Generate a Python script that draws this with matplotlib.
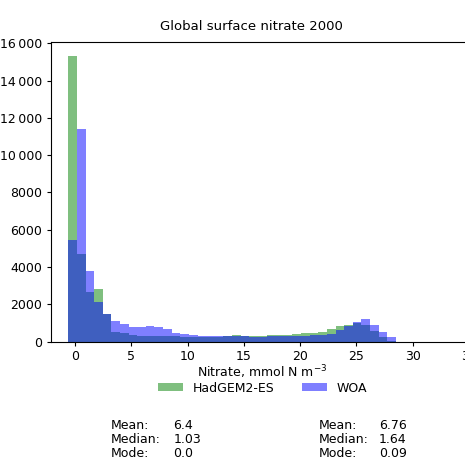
import numpy as np
import matplotlib
matplotlib.use("Agg")
import matplotlib.pyplot as plt
from matplotlib.ticker import FuncFormatter

# ---- data (counts per histogram bin) ----
bin_start = -0.62
bin_width = 0.7665
hadgem_counts = [15300, 4700, 2680, 2810, 1480, 520, 450, 360, 330, 300,
                 300, 290, 280, 270, 260, 250, 240, 240, 300, 360,
                 330, 300, 290, 350, 370, 380, 430, 450, 470, 540,
                 660, 850, 920, 1000, 900, 560, 240, 30]
woa_counts = [5450, 11400, 3790, 2140, 1460, 1110, 930, 770, 800, 840,
              780, 660, 490, 400, 360, 320, 300, 280, 320, 300,
              290, 270, 270, 290, 300, 300, 320, 330, 340, 340,
              400, 620, 850, 1030, 1220, 900, 500, 270]
series_labels = ["HadGEM2-ES", "WOA"]
stats_hadgem = [("Mean:", "6.4"), ("Median:", "1.03"), ("Mode:", "0.0")]
stats_woa = [("Mean:", "6.76"), ("Median:", "1.64"), ("Mode:", "0.09")]
x_ticks = [0, 5, 10, 15, 20, 25, 30, 35]
y_ticks = [0, 2000, 4000, 6000, 8000, 10000, 12000, 14000, 16000]

plt.rcParams['font.family'] = ['DejaVu Sans']
plt.rcParams['font.size'] = 9
plt.rcParams['xtick.major.size'] = 3.2
plt.rcParams['ytick.major.size'] = 3.2
plt.rcParams['xtick.major.pad'] = 3.0
plt.rcParams['ytick.major.pad'] = 2.8

W, H = 465, 461
fig = plt.figure(figsize=(W / 100, H / 100), dpi=100)
ax = fig.add_axes([50.5 / W, 1 - 341.7 / H, 424 / W, (341.7 - 42) / H])

n = len(hadgem_counts)
edges = bin_start + bin_width * np.arange(n + 1)
centers = (edges[:-1] + edges[1:]) / 2

ax.hist(centers, bins=edges, weights=hadgem_counts, color='g', alpha=0.5,
        label=series_labels[0])
ax.hist(centers, bins=edges, weights=woa_counts, color='b', alpha=0.5,
        label=series_labels[1])

ax.set_xlim(-2.2, 35.5)
ax.set_ylim(0, 16065)
ax.set_xticks(x_ticks)
ax.set_yticks(y_ticks)


def yfmt(v, pos):
    v = int(round(v))
    if v >= 10000:
        return f"{v:,}".replace(",", "\u2009")
    return str(v)


ax.yaxis.set_major_formatter(FuncFormatter(yfmt))
ax.set_xlabel("Nitrate, mmol N m$^{-3}$", labelpad=0)

fig.text(251.5 / W, 1 - 27 / H, "Global surface nitrate 2000",
         ha='center', va='center', fontsize=9.5)

ax.legend(loc='center', bbox_to_anchor=(0.5, -0.155), ncol=2,
          frameon=False, handlelength=2.0, handleheight=0.6,
          columnspacing=2.2, handletextpad=0.8, borderaxespad=0,
          borderpad=0)

row_y = [425, 439, 453]
for (lab, val), y in zip(stats_hadgem, row_y):
    fig.text(110.7 / W, 1 - y / H, lab, ha='left', va='center')
    fig.text(173.3 / W, 1 - y / H, val, ha='left', va='center')
for (lab, val), y in zip(stats_woa, row_y):
    fig.text(318.3 / W, 1 - y / H, lab, ha='left', va='center')
    fig.text(379 / W, 1 - y / H, val, ha='left', va='center')

fig.savefig("out.png", dpi=100)
